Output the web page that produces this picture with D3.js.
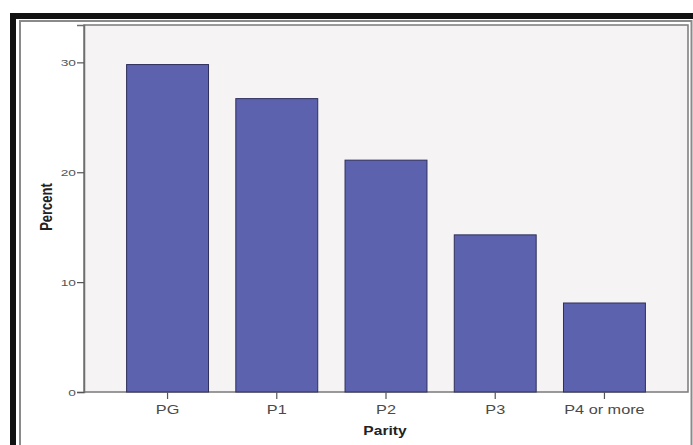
<!DOCTYPE html>
<html>
<head>
<meta charset="utf-8">
<script src="https://cdn.jsdelivr.net/npm/d3@7"></script>
<style>
  html, body { margin: 0; padding: 0; background: #ffffff; }
  svg { display: block; }
</style>
</head>
<body>
<svg id="chart" width="693" height="445"></svg>
<script>
const categories = ["PG", "P1", "P2", "P3", "P4 or more"];
const percents = [29.8, 26.7, 21.1, 14.3, 8.1];
const yTicks = [0, 10, 20, 30];
const xTitle = "Parity";
const yTitle = "Percent";

const svg = d3.select("#chart");
const W = 693, H = 445;
const plot = { left: 84, right: 688, top: 25, bottom: 392 };
const FONT = "Arial, 'Liberation Sans', sans-serif";

// outer frame
svg.append("rect").attr("x", 13).attr("y", 16).attr("width", W + 20).attr("height", H + 20)
  .attr("fill", "none").attr("stroke", "#111").attr("stroke-width", 6);
svg.append("rect").attr("x", 20).attr("y", 21).attr("width", 671.5).attr("height", H)
  .attr("fill", "#fff").attr("stroke", "#8a8a8a").attr("stroke-width", 2);

// plot background
svg.append("rect").attr("x", plot.left).attr("y", plot.top)
  .attr("width", plot.right - plot.left).attr("height", plot.bottom - plot.top)
  .attr("fill", "#f5f3f4").attr("stroke", "#7a7a7a").attr("stroke-width", 1.5);

const x = d3.scaleBand().domain(categories).range([plot.left, plot.right])
  .paddingInner(0.25).paddingOuter(0.39);
const y = d3.scaleLinear().domain([0, 33.4]).range([plot.bottom, plot.top]);

svg.append("g").selectAll("rect").data(categories).join("rect")
  .attr("x", d => x(d)).attr("width", x.bandwidth())
  .attr("y", (d, i) => y(percents[i]))
  .attr("height", (d, i) => y(0) - y(percents[i]))
  .attr("fill", "#5c62ae").attr("stroke", "#2e2f5c").attr("stroke-width", 1);

// y axis
const ySx = 1.45;
const yAxis = svg.append("g").attr("transform", `translate(${plot.left},0)`)
  .call(d3.axisLeft(y).tickValues(yTicks).tickSize(7).tickPadding(1).tickFormat(d3.format("d")));
yAxis.select(".domain").attr("stroke", "#6e6e6e").attr("stroke-width", 1.5);
yAxis.selectAll(".tick line").attr("stroke", "#555").attr("stroke-width", 1.2);
yAxis.selectAll("text").attr("fill", "#555").attr("font-family", FONT)
  .attr("font-size", 9.5).attr("x", -8 / ySx).attr("transform", `scale(${ySx},1)`);

// x axis
const xAxis = svg.append("g").attr("transform", `translate(0,${plot.bottom})`)
  .call(d3.axisBottom(x).tickSize(7).tickPadding(6));
xAxis.select(".domain").remove();
xAxis.selectAll(".tick line").attr("stroke", "#555").attr("stroke-width", 1.2);
xAxis.selectAll("text").attr("fill", "#4a4a4a").attr("font-family", FONT)
  .attr("font-size", 13).attr("transform", "scale(1.25,1)");

svg.append("text").attr("transform", `translate(385,435) scale(1.2,1)`)
  .attr("text-anchor", "middle").attr("font-family", FONT)
  .attr("font-weight", "bold").attr("font-size", 13).attr("fill", "#222").text(xTitle);

svg.append("text").attr("transform", `translate(52,207) rotate(-90) scale(1,1.2)`)
  .attr("text-anchor", "middle").attr("font-family", FONT)
  .attr("font-weight", "bold").attr("font-size", 13).attr("fill", "#222").text(yTitle);
</script>
</body>
</html>
